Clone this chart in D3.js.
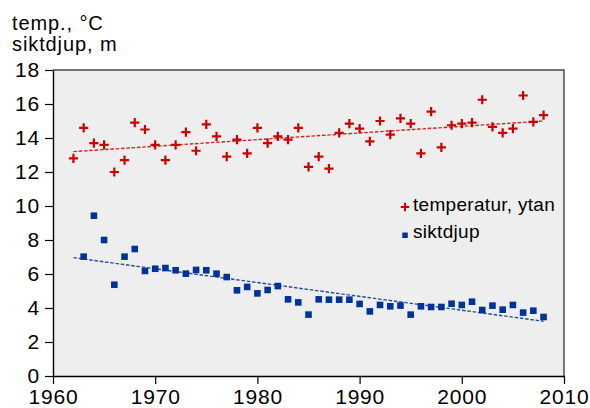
<!DOCTYPE html>
<html>
<head>
<meta charset="utf-8">
<script src="https://cdn.jsdelivr.net/npm/d3@7"></script>
<style>
  body { margin: 0; background: #fff; }
  svg { display: block; }
  text { font-family: "Liberation Sans", Arial, Helvetica, sans-serif; fill: #000; }
</style>
</head>
<body>
<svg id="chart" width="590" height="408"></svg>
<script>
// Surface water temperature (°C) and Secchi depth (m), yearly means
const tempYears = [1962, 1963, 1964, 1965, 1966, 1967, 1968, 1969, 1970, 1971,
  1972, 1973, 1974, 1975, 1976, 1977, 1978, 1979, 1980, 1981,
  1982, 1983, 1984, 1985, 1986, 1987, 1988, 1989, 1990, 1991,
  1992, 1993, 1994, 1995, 1996, 1997, 1998, 1999, 2000, 2001,
  2002, 2003, 2004, 2005, 2006, 2007, 2008];
const tempValues = [12.8, 14.6, 13.7, 13.6, 12.0, 12.7, 14.9, 14.5, 13.6, 12.7,
  13.6, 14.35, 13.25, 14.8, 14.1, 12.9, 13.9, 13.1, 14.6, 13.7,
  14.1, 13.9, 14.6, 12.3, 12.9, 12.2, 14.3, 14.85, 14.55, 13.8,
  15.0, 14.2, 15.15, 14.85, 13.1, 15.55, 13.45, 14.75, 14.85, 14.9,
  16.25, 14.65, 14.3, 14.55, 16.5, 14.95, 15.35];

const depthYears = [1963, 1964, 1965, 1966, 1967, 1968, 1969, 1970, 1971,
  1972, 1973, 1974, 1975, 1976, 1977, 1978, 1979, 1980, 1981,
  1982, 1983, 1984, 1985, 1986, 1987, 1988, 1989, 1990, 1991,
  1992, 1993, 1994, 1995, 1996, 1997, 1998, 1999, 2000, 2001,
  2002, 2003, 2004, 2005, 2006, 2007, 2008];
const depthValues = [7.02, 9.43, 8.0, 5.37, 7.02, 7.47, 6.18, 6.31, 6.35,
  6.22, 6.02, 6.24, 6.22, 6.02, 5.82, 5.04, 5.24, 4.86, 5.06,
  5.29, 4.51, 4.33, 3.61, 4.51, 4.49, 4.49, 4.49, 4.24, 3.8,
  4.18, 4.1, 4.14, 3.61, 4.1, 4.06, 4.06, 4.25, 4.18, 4.37,
  3.88, 4.14, 3.9, 4.18, 3.73, 3.84, 3.47];

// Linear trend lines, start and end of the period
const trendYears = [1962, 2008];
const tempTrend = [13.2, 15.0];
const depthTrend = [6.96, 3.22];

const xTicks = [1960, 1970, 1980, 1990, 2000, 2010];
const yTicks = [0, 2, 4, 6, 8, 10, 12, 14, 16, 18];
const titleLines = ["temp., \u00B0C", "siktdjup, m"];
const legendLabels = ["temperatur, ytan", "siktdjup"];

const red = "#cc0000";
const blue = "#003399";

const svg = d3.select("#chart");
const plotLeft = 53, plotRight = 564, plotTop = 70, plotBottom = 376;

const x = d3.scaleLinear().domain([1960, 2010]).range([plotLeft, plotRight]);
const y = d3.scaleLinear().domain([0, 18]).range([plotBottom, plotTop]);

// plot background and frame
svg.append("rect")
  .attr("x", plotLeft).attr("y", plotTop)
  .attr("width", plotRight - plotLeft).attr("height", plotBottom - plotTop)
  .attr("fill", "#eeeeee");
svg.append("path")
  .attr("d", `M${plotLeft},${plotTop}H${plotRight}V${plotBottom}`)
  .attr("fill", "none").attr("stroke", "#444").attr("stroke-width", 1.4);

// axes
const yAxis = svg.append("g")
  .attr("transform", `translate(${plotLeft},0)`)
  .call(d3.axisLeft(y).tickValues(yTicks).tickSizeInner(8).tickSizeOuter(0).tickPadding(5));
const xAxis = svg.append("g")
  .attr("transform", `translate(0,${plotBottom})`)
  .call(d3.axisBottom(x).tickValues(xTicks).tickFormat(d3.format("d")).tickSizeInner(8).tickSizeOuter(0).tickPadding(5));
[yAxis, xAxis].forEach(g => {
  g.select(".domain").attr("stroke", "#000").attr("stroke-width", 1.4);
  g.selectAll(".tick line").attr("stroke", "#000").attr("stroke-width", 1.2);
  g.selectAll(".tick text").attr("font-size", 21).attr("fill", "#000")
    .attr("letter-spacing", 0.8)
    .style("font-family", '"Liberation Sans", Arial, Helvetica, sans-serif');
});

// axis title
svg.append("g").selectAll("text").data(titleLines).join("text")
  .attr("x", 12).attr("y", (d, i) => 30 + i * 21)
  .attr("font-size", 20)
  .attr("letter-spacing", 0.9)
  .text(d => d);

// trend lines
const trendLine = d3.line().x(d => x(d[0])).y(d => y(d[1]));
svg.append("path")
  .datum(d3.zip(trendYears, tempTrend))
  .attr("d", trendLine)
  .attr("fill", "none").attr("stroke", red).attr("stroke-width", 1.4)
  .attr("stroke-dasharray", "3.5,1.8").attr("opacity", 0.85);
svg.append("path")
  .datum(d3.zip(trendYears, depthTrend))
  .attr("d", trendLine)
  .attr("fill", "none").attr("stroke", blue).attr("stroke-width", 1.4)
  .attr("stroke-dasharray", "3.5,1.8").attr("opacity", 0.85);

// temperature markers (plus signs)
const plus = s => `M${-s},0H${s}M0,${-s}V${s}`;
svg.append("g").selectAll("path").data(d3.zip(tempYears, tempValues)).join("path")
  .attr("transform", d => `translate(${x(d[0])},${y(d[1])})`)
  .attr("d", plus(4.6))
  .attr("stroke", red).attr("stroke-width", 2.2).attr("fill", "none");

// Secchi depth markers (squares)
const sq = 6.6;
svg.append("g").selectAll("rect").data(d3.zip(depthYears, depthValues)).join("rect")
  .attr("x", d => x(d[0]) - sq / 2).attr("y", d => y(d[1]) - sq / 2)
  .attr("width", sq).attr("height", sq)
  .attr("fill", blue);

// legend
const legend = svg.append("g");
legend.append("path")
  .attr("transform", "translate(405,207)")
  .attr("d", plus(4.2))
  .attr("stroke", red).attr("stroke-width", 2).attr("fill", "none");
legend.append("rect")
  .attr("x", 402.3).attr("y", 232.5).attr("width", 5.5).attr("height", 5.5)
  .attr("fill", blue);
legend.selectAll("text").data(legendLabels).join("text")
  .attr("x", 413).attr("y", (d, i) => 211 + i * 27)
  .attr("font-size", 19)
  .attr("letter-spacing", 0.3)
  .text(d => d);
</script>
</body>
</html>
